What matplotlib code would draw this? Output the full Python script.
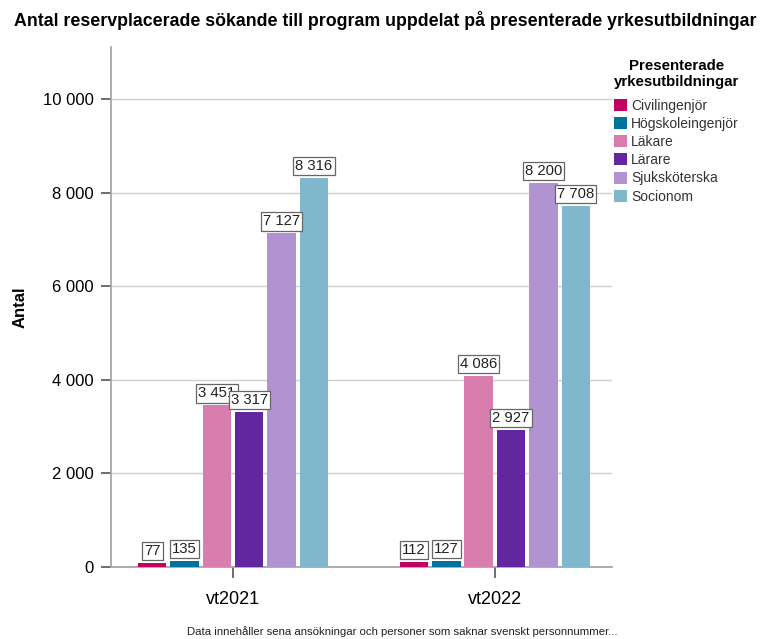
import matplotlib
matplotlib.use("Agg")
import matplotlib.pyplot as plt
import numpy as np
from matplotlib.patches import Patch

plt.rcParams['font.family'] = ['Liberation Sans', 'DejaVu Sans']

groups = ["vt2021", "vt2022"]
series = ["Civilingenjör", "Högskoleingenjör", "Läkare", "Lärare", "Sjuksköterska", "Socionom"]
values = {
    "Civilingenjör": [77, 112],
    "Högskoleingenjör": [135, 127],
    "Läkare": [3451, 4086],
    "Lärare": [3317, 2927],
    "Sjuksköterska": [7127, 8200],
    "Socionom": [8316, 7708],
}
colors = ["#C2005F", "#00739C", "#D87DAE", "#62269E", "#B293D1", "#7FB7CC"]
yticks = [0, 2000, 4000, 6000, 8000, 10000]
ytick_labels = ["0", "2 000", "4 000", "6 000", "8 000", "10 000"]

def fmt(v):
    return f"{v:,}".replace(",", " ")

fig = plt.figure(figsize=(7.6, 6.39), dpi=100)
ax = fig.add_axes([111/760, 1-567/639, (612-111)/760, (567-47)/639])

x = np.arange(len(groups))
pitch = 0.1235
width = 0.109
n = len(series)
for i, s in enumerate(series):
    pos = x + (i - (n-1)/2) * pitch
    ax.bar(pos, values[s], width=width, color=colors[i], zorder=3, label=s)
    for px, v in zip(pos, values[s]):
        ax.annotate(fmt(v), (px, v), xytext=(0, 3.6), textcoords="offset points",
                    ha="center", va="bottom", fontsize=10.7, color="#222222", zorder=5,
                    bbox=dict(boxstyle="square,pad=0.14", fc="white", ec="#666666", lw=0.9))

ax.set_xlim(-0.466, 1.447)
ax.set_ylim(0, 11110)
ax.set_xticks(x)
ax.set_xticklabels(groups, fontsize=13)
ax.set_yticks(yticks)
ax.set_yticklabels(ytick_labels, fontsize=12)
ax.yaxis.grid(True, color="#D0D0D0", lw=1, zorder=0)
ax.set_axisbelow(True)
for sp in ["top", "right"]:
    ax.spines[sp].set_visible(False)
ax.spines["left"].set_color("#A0A0A0")
ax.spines["bottom"].set_color("#A0A0A0")
ax.spines["left"].set_linewidth(1.2)
ax.spines["bottom"].set_linewidth(1.2)
ax.tick_params(axis="y", direction="out", length=7.5, width=1.2, color="#555555", pad=5)
ax.tick_params(axis="x", direction="out", length=8, width=1.2, color="#555555", pad=9)
ax.set_ylabel("Antal", fontsize=12, fontweight="bold", labelpad=11)

fig.text(385/760, 1-20/639, "Antal reservplacerade sökande till program uppdelat på presenterade yrkesutbildningar",
         ha="center", va="center", fontsize=12.8, fontweight="bold")
fig.text(402/760, 1-632/639, "Data innehåller sena ansökningar och personer som saknar svenskt personnummer...",
         ha="center", va="center", fontsize=8.2, color="#222222")

handles = [Patch(facecolor=c, edgecolor="none") for c in colors]
leg = fig.legend(handles, series, loc="upper left", bbox_to_anchor=(611/760, 1-56/639),
                 frameon=False, fontsize=10, title="Presenterade\nyrkesutbildningar",
                 title_fontproperties={"weight": "bold", "size": 10.8},
                 handlelength=0.95, handleheight=0.95, handletextpad=0.25, labelspacing=0.3,
                 borderaxespad=0, borderpad=0.2, alignment="center")
leg.get_title().set_multialignment("center")
leg._legend_box.sep = 7
for t in leg.get_texts():
    t.set_color("#333333")

fig.savefig("out.png", dpi=100)
